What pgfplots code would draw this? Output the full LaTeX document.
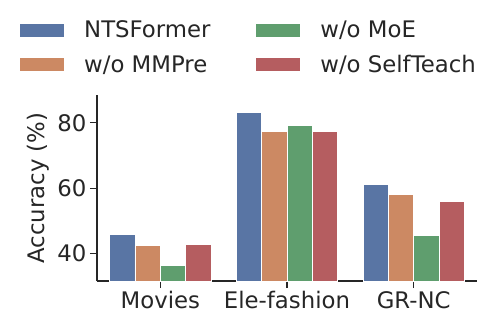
\documentclass[border=0pt]{standalone}
\usepackage{fontspec}
\setmainfont{DejaVu Sans}
\usepackage{pgfplots}
\pgfplotsset{compat=1.18}

\definecolor{cblue}{HTML}{5975A4}
\definecolor{corange}{HTML}{CC8963}
\definecolor{cgreen}{HTML}{5F9E6E}
\definecolor{cred}{HTML}{B55D60}
\definecolor{axgray}{HTML}{262626}

\newcommand{\bigfont}{\fontsize{22.8}{27}\selectfont}

\begin{document}
\begin{tikzpicture}
\useasboundingbox (-97pt,-44pt) rectangle (401pt,281pt);
\begin{axis}[
  scale only axis,
  width=380pt, height=186pt,
  xmin=-0.5, xmax=2.5,
  ymin=31.6, ymax=88.5,
  axis lines*=left,
  axis line style={axgray, line width=1.25pt},
  ybar, bar width=0.2,
  xtick={0,1,2},
  xticklabels={Movies, Ele-fashion, GR-NC},
  ytick={40,60,80},
  tick align=outside,
  major tick length=7pt,
  tick style={axgray, line width=1.25pt},
  ticklabel style={font=\bigfont, text=axgray},
  /pgf/number format/assume math mode=true,
  ylabel={Accuracy (\%)},
  ylabel style={font=\bigfont, text=axgray, at={(axis description cs:-0.155,0.5)}, anchor=center},
  legend columns=2,
  transpose legend,
  legend style={draw=none, fill=none, font=\bigfont, text=axgray,
    at={(axis description cs:-0.205,1.41)}, anchor=north west,
    inner sep=0pt, row sep=12pt,
    /tikz/every odd column/.append style={column sep=17pt},
    /tikz/every even column/.append style={column sep=43pt},
    cells={anchor=west}},
  legend image code/.code={\draw[#1] (0pt,-7pt) rectangle (45pt,7pt);},
  every axis plot/.append style={draw=white, line width=0.9pt},
]
\addplot[fill=cblue, bar shift=-0.3] coordinates {(0,45.9) (1,83.2) (2,61.2)};
\addplot[fill=corange, bar shift=-0.1] coordinates {(0,42.45) (1,77.3) (2,58.2)};
\addplot[fill=cgreen, bar shift=0.1] coordinates {(0,36.4) (1,79.3) (2,45.5)};
\addplot[fill=cred, bar shift=0.3] coordinates {(0,42.9) (1,77.4) (2,55.9)};
\legend{NTSFormer, w/o MMPre, w/o MoE, w/o SelfTeach}
\end{axis}
\end{tikzpicture}
\end{document}
